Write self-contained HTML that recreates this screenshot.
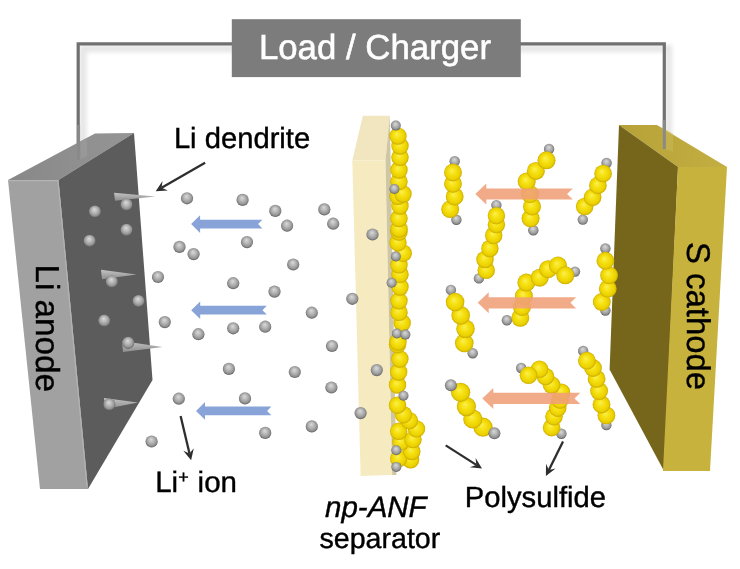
<!DOCTYPE html><html><head><meta charset="utf-8"><style>html,body{margin:0;padding:0;background:#fff;width:740px;height:569px;overflow:hidden}svg{display:block;will-change:transform}text{text-rendering:geometricPrecision}</style></head><body>
<svg width="740" height="569" viewBox="0 0 740 569">
<defs>
<radialGradient id="gli" cx="0.5" cy="0.47" fx="0.45" fy="0.32" r="0.53"><stop offset="0" stop-color="#dadada"/><stop offset="0.45" stop-color="#b6b6b6"/><stop offset="0.8" stop-color="#929292"/><stop offset="1" stop-color="#5e5e5e"/></radialGradient>
<radialGradient id="gs" cx="0.5" cy="0.5" fx="0.42" fy="0.38" r="0.5"><stop offset="0" stop-color="#fbef55"/><stop offset="0.4" stop-color="#f6e214"/><stop offset="0.82" stop-color="#ebd000"/><stop offset="1" stop-color="#c9aa00"/></radialGradient>
<linearGradient id="anTop" x1="0" y1="0" x2="1" y2="0"><stop offset="0" stop-color="#888888"/><stop offset="1" stop-color="#959595"/></linearGradient><linearGradient id="caTop" x1="0" y1="0" x2="1" y2="0"><stop offset="0" stop-color="#b7a238"/><stop offset="1" stop-color="#c3ae42"/></linearGradient>
<linearGradient id="dend" x1="0" y1="0" x2="0" y2="1"><stop offset="0" stop-color="#c4c4c4"/><stop offset="1" stop-color="#8e8e8e"/></linearGradient>
</defs>
<rect width="740" height="569" fill="#fff"/>
<filter id="blr" x="-20%" y="-20%" width="140%" height="140%"><feGaussianBlur stdDeviation="2.2"/></filter>
<polyline points="83,160 83,48.5 668.5,48.5 668.5,149" fill="none" stroke="#000" stroke-opacity="0.10" stroke-width="7" filter="url(#blr)"/>
<polyline points="78.2,160 78.2,43.8 664.3,43.8 664.3,149" fill="none" stroke="#707070" stroke-width="3.2"/>
<rect x="231.8" y="19.2" width="289" height="57.9" fill="#7c7c7c"/>
<text x="258.9" y="59.3" font-family='"Liberation Sans", sans-serif' font-size="34.8" fill="#fff" stroke="#fff" stroke-width="0.55">Load / Charger</text>
<polygon points="8,180 58.5,180 88,489 40,489" fill="#a1a1a1"/>
<polygon points="8,180 95,133.5 134,133 58.5,180" fill="url(#anTop)"/>
<polygon points="58.5,180 134,133 152.5,380 88,489" fill="#5c5c5c"/>
<polyline points="8.5,180.6 58,180.6 87,486" fill="none" stroke="#b4b4b4" stroke-width="1.1"/>
<polygon points="80.3,141.3 87,137.8 87,156 80.3,159.6" fill="#a0a0a0" opacity="0.5"/>
<line x1="78.6" y1="125" x2="78.6" y2="159.6" stroke="#8a8a8a" stroke-width="3"/>
<text transform="translate(36.3,264.5) rotate(90)" font-family='"Liberation Sans", sans-serif' font-size="33.2" fill="#000" stroke="#000" stroke-width="0.4">Li anode</text>
<polygon points="619,125 657,125 727,167 678,167" fill="url(#caTop)"/>
<polygon points="619,125 678,167 664,471 609.6,369.4" fill="#76661c"/>
<polygon points="678,167 727,167 710,471 663,471" fill="#c8b23e"/>
<polygon points="666,129 673,133 673,152 666,149" fill="#d8c870" opacity="0.3"/>
<line x1="664.3" y1="120" x2="664.3" y2="149" stroke="#8a8a8a" stroke-width="3"/>
<text transform="translate(686.9,242) rotate(90)" font-family='"Liberation Sans", sans-serif' font-size="32.9" fill="#000" stroke="#000" stroke-width="0.4">S cathode</text>
<polygon points="362.8,115.8 389.8,115.8 385.5,160.4 352.3,160.4" fill="#f1e6bf"/>
<polygon points="352.3,160.4 385.5,160.4 392.2,475 360.6,476" fill="#f6ebc0"/>
<polygon points="389.8,115.8 385.5,160.4 392.2,475 396.4,475" fill="#cfc6a4"/>
<polygon points="114,192.7 155.4,196.5 115,200.7" fill="url(#dend)"/>
<polygon points="101,269.7 136.5,274.5 102,279.2" fill="url(#dend)"/>
<polygon points="122,341 162.5,347 123,352" fill="url(#dend)"/>
<polygon points="104,398 138,402.6 105,409" fill="url(#dend)"/>
<circle cx="126.5" cy="204.60000000000002" r="6.1" fill="url(#gli)"/>
<circle cx="94.9" cy="211.5" r="6.1" fill="url(#gli)"/>
<circle cx="126.5" cy="229.9" r="6.1" fill="url(#gli)"/>
<circle cx="89.6" cy="240.8" r="6.1" fill="url(#gli)"/>
<circle cx="111.8" cy="281.6" r="6.1" fill="url(#gli)"/>
<circle cx="138.5" cy="301.0" r="6.1" fill="url(#gli)"/>
<circle cx="104.2" cy="320.7" r="6.1" fill="url(#gli)"/>
<circle cx="128.2" cy="342.8" r="6.1" fill="url(#gli)"/>
<circle cx="109.3" cy="404.5" r="6.1" fill="url(#gli)"/>
<circle cx="187" cy="198.3" r="6.1" fill="url(#gli)"/>
<circle cx="242.6" cy="199.9" r="6.1" fill="url(#gli)"/>
<circle cx="275.3" cy="210.9" r="6.1" fill="url(#gli)"/>
<circle cx="287.1" cy="225.70000000000002" r="6.1" fill="url(#gli)"/>
<circle cx="324.3" cy="209.4" r="6.1" fill="url(#gli)"/>
<circle cx="333.2" cy="223.70000000000002" r="6.1" fill="url(#gli)"/>
<circle cx="247" cy="242.10000000000002" r="6.1" fill="url(#gli)"/>
<circle cx="179.5" cy="246.9" r="6.1" fill="url(#gli)"/>
<circle cx="193.6" cy="254.10000000000002" r="6.1" fill="url(#gli)"/>
<circle cx="293.2" cy="264.5" r="6.1" fill="url(#gli)"/>
<circle cx="158" cy="277.0" r="6.1" fill="url(#gli)"/>
<circle cx="233.2" cy="283.2" r="6.1" fill="url(#gli)"/>
<circle cx="274.5" cy="291.6" r="6.1" fill="url(#gli)"/>
<circle cx="311.8" cy="312.7" r="6.1" fill="url(#gli)"/>
<circle cx="164.8" cy="322.1" r="6.1" fill="url(#gli)"/>
<circle cx="198.4" cy="334.2" r="6.1" fill="url(#gli)"/>
<circle cx="233.2" cy="328.3" r="6.1" fill="url(#gli)"/>
<circle cx="265.2" cy="326.7" r="6.1" fill="url(#gli)"/>
<circle cx="332" cy="346.0" r="6.1" fill="url(#gli)"/>
<circle cx="228.9" cy="368.90000000000003" r="6.1" fill="url(#gli)"/>
<circle cx="294.8" cy="372.0" r="6.1" fill="url(#gli)"/>
<circle cx="331.4" cy="387.5" r="6.1" fill="url(#gli)"/>
<circle cx="178.8" cy="398.7" r="6.1" fill="url(#gli)"/>
<circle cx="245" cy="398.40000000000003" r="6.1" fill="url(#gli)"/>
<circle cx="311.8" cy="426.40000000000003" r="6.1" fill="url(#gli)"/>
<circle cx="265.2" cy="432.90000000000003" r="6.1" fill="url(#gli)"/>
<circle cx="151.6" cy="441.5" r="6.1" fill="url(#gli)"/>
<circle cx="352.3" cy="298.8" r="6.1" fill="url(#gli)"/>
<circle cx="372.5" cy="234.5" r="6.1" fill="url(#gli)"/>
<circle cx="376.8" cy="370.1" r="6.1" fill="url(#gli)"/>
<circle cx="360.6" cy="413.1" r="6.1" fill="url(#gli)"/>
<polygon points="191.1,224.1 200.1,215.29999999999998 200.1,219.7 262.4,219.7 258.09999999999997,224.1 262.4,228.5 200.1,228.5 200.1,232.9" fill="#87a3d8"/>
<polygon points="191.2,310.2 200.2,301.4 200.2,305.8 266.8,305.8 262.5,310.2 266.8,314.59999999999997 200.2,314.59999999999997 200.2,319.0" fill="#87a3d8"/>
<polygon points="196,410.9 205,402.09999999999997 205,406.5 271.4,406.5 267.09999999999997,410.9 271.4,415.29999999999995 205,415.29999999999995 205,419.7" fill="#87a3d8"/>
<circle cx="410.6" cy="459.8" r="8.7" fill="url(#gs)"/>
<circle cx="398.7" cy="458.6" r="8.7" fill="url(#gs)"/>
<circle cx="411.8" cy="451.5" r="8.7" fill="url(#gs)"/>
<circle cx="401" cy="442" r="8.7" fill="url(#gs)"/>
<circle cx="413" cy="439.6" r="8.7" fill="url(#gs)"/>
<circle cx="398.7" cy="431.3" r="8.7" fill="url(#gs)"/>
<circle cx="416.5" cy="428.9" r="8.7" fill="url(#gs)"/>
<circle cx="409.4" cy="420.6" r="8.7" fill="url(#gs)"/>
<circle cx="403.5" cy="414.7" r="8.7" fill="url(#gs)"/>
<circle cx="397.5" cy="405.2" r="8.7" fill="url(#gs)"/>
<circle cx="397.5" cy="385" r="8.7" fill="url(#gs)"/>
<circle cx="398.7" cy="372" r="8.7" fill="url(#gs)"/>
<circle cx="399.9" cy="359" r="8.7" fill="url(#gs)"/>
<circle cx="397.5" cy="344.7" r="8.7" fill="url(#gs)"/>
<circle cx="398" cy="342" r="8.7" fill="url(#gs)"/>
<circle cx="402.2" cy="323" r="8.7" fill="url(#gs)"/>
<circle cx="399" cy="312.4" r="8.7" fill="url(#gs)"/>
<circle cx="399" cy="300.8" r="8.7" fill="url(#gs)"/>
<circle cx="400" cy="287" r="8.7" fill="url(#gs)"/>
<circle cx="400" cy="274.4" r="8.7" fill="url(#gs)"/>
<circle cx="399" cy="264.9" r="8.7" fill="url(#gs)"/>
<circle cx="403.2" cy="253.2" r="8.7" fill="url(#gs)"/>
<circle cx="398" cy="242.7" r="8.7" fill="url(#gs)"/>
<circle cx="399" cy="232" r="8.7" fill="url(#gs)"/>
<circle cx="399" cy="229" r="8.7" fill="url(#gs)"/>
<circle cx="399" cy="218.5" r="8.7" fill="url(#gs)"/>
<circle cx="400" cy="206" r="8.7" fill="url(#gs)"/>
<circle cx="398" cy="196.3" r="8.7" fill="url(#gs)"/>
<circle cx="403" cy="194" r="8.7" fill="url(#gs)"/>
<circle cx="399" cy="181.6" r="8.7" fill="url(#gs)"/>
<circle cx="399" cy="170" r="8.7" fill="url(#gs)"/>
<circle cx="400" cy="157.3" r="8.7" fill="url(#gs)"/>
<circle cx="400" cy="146" r="8.7" fill="url(#gs)"/>
<circle cx="398" cy="136.1" r="8.7" fill="url(#gs)"/>
<circle cx="395.8" cy="125.6" r="5.0" fill="url(#gli)"/>
<circle cx="394.4" cy="189" r="5.0" fill="url(#gli)"/>
<circle cx="395.8" cy="256.4" r="5.0" fill="url(#gli)"/>
<circle cx="391.6" cy="282.8" r="5.0" fill="url(#gli)"/>
<circle cx="396.9" cy="333.5" r="5.0" fill="url(#gli)"/>
<circle cx="405.4" cy="334.6" r="5.0" fill="url(#gli)"/>
<circle cx="403.5" cy="395.7" r="5.0" fill="url(#gli)"/>
<circle cx="396.3" cy="450.3" r="5.0" fill="url(#gli)"/>
<circle cx="396.3" cy="466.9" r="5.0" fill="url(#gli)"/>
<circle cx="454.7" cy="161.3" r="5.2" fill="url(#gli)"/>
<circle cx="456.4" cy="219.7" r="5.2" fill="url(#gli)"/>
<circle cx="450.2" cy="209.2" r="8.9" fill="url(#gs)"/>
<circle cx="454.7" cy="196.5" r="8.9" fill="url(#gs)"/>
<circle cx="453" cy="183.8" r="8.9" fill="url(#gs)"/>
<circle cx="453" cy="172.5" r="8.9" fill="url(#gs)"/>
<circle cx="549.1" cy="149" r="5.2" fill="url(#gli)"/>
<circle cx="533.3" cy="230.2" r="5.2" fill="url(#gli)"/>
<circle cx="530.6" cy="218.3" r="9.0" fill="url(#gs)"/>
<circle cx="532" cy="206.5" r="9.0" fill="url(#gs)"/>
<circle cx="530" cy="194" r="9.0" fill="url(#gs)"/>
<circle cx="526.7" cy="181.4" r="9.0" fill="url(#gs)"/>
<circle cx="535.9" cy="170.9" r="9.0" fill="url(#gs)"/>
<circle cx="546.5" cy="160.3" r="9.0" fill="url(#gs)"/>
<circle cx="606.6" cy="163" r="5.2" fill="url(#gli)"/>
<circle cx="582.8" cy="219.6" r="5.2" fill="url(#gli)"/>
<circle cx="584.7" cy="206.5" r="8.8" fill="url(#gs)"/>
<circle cx="592.6" cy="197.2" r="8.8" fill="url(#gs)"/>
<circle cx="597.9" cy="185.4" r="8.8" fill="url(#gs)"/>
<circle cx="603.1" cy="173.5" r="8.8" fill="url(#gs)"/>
<circle cx="496.4" cy="205.1" r="5.2" fill="url(#gli)"/>
<circle cx="478.9" cy="278.4" r="5.2" fill="url(#gli)"/>
<circle cx="486.2" cy="270.4" r="8.7" fill="url(#gs)"/>
<circle cx="485" cy="259.5" r="8.7" fill="url(#gs)"/>
<circle cx="489.9" cy="248.5" r="8.7" fill="url(#gs)"/>
<circle cx="493.7" cy="235.5" r="8.7" fill="url(#gs)"/>
<circle cx="496.4" cy="224.6" r="8.7" fill="url(#gs)"/>
<circle cx="496.4" cy="215.7" r="8.7" fill="url(#gs)"/>
<circle cx="450.9" cy="289.9" r="5.2" fill="url(#gli)"/>
<circle cx="472.7" cy="353.2" r="5.2" fill="url(#gli)"/>
<circle cx="464.3" cy="343" r="9.3" fill="url(#gs)"/>
<circle cx="465.5" cy="328.8" r="9.3" fill="url(#gs)"/>
<circle cx="460.7" cy="315.4" r="9.3" fill="url(#gs)"/>
<circle cx="455.1" cy="302" r="9.3" fill="url(#gs)"/>
<circle cx="575" cy="271.6" r="5.2" fill="url(#gli)"/>
<circle cx="506.9" cy="320.3" r="5.2" fill="url(#gli)"/>
<circle cx="520.3" cy="317.8" r="9.0" fill="url(#gs)"/>
<circle cx="522" cy="307" r="9.0" fill="url(#gs)"/>
<circle cx="523.9" cy="296" r="9.0" fill="url(#gs)"/>
<circle cx="526.4" cy="282.6" r="9.0" fill="url(#gs)"/>
<circle cx="539.7" cy="277.7" r="9.0" fill="url(#gs)"/>
<circle cx="548.2" cy="269.2" r="9.0" fill="url(#gs)"/>
<circle cx="558" cy="265.5" r="9.0" fill="url(#gs)"/>
<circle cx="565.3" cy="275.3" r="9.0" fill="url(#gs)"/>
<circle cx="605.4" cy="248.5" r="5.2" fill="url(#gli)"/>
<circle cx="605.4" cy="310.5" r="5.2" fill="url(#gli)"/>
<circle cx="601.8" cy="302" r="8.9" fill="url(#gs)"/>
<circle cx="607.8" cy="288.7" r="8.9" fill="url(#gs)"/>
<circle cx="609.1" cy="275.3" r="8.9" fill="url(#gs)"/>
<circle cx="605.4" cy="260.7" r="8.9" fill="url(#gs)"/>
<circle cx="483" cy="427.2" r="9.6" fill="url(#gs)"/>
<circle cx="472.8" cy="419" r="9.6" fill="url(#gs)"/>
<circle cx="466.4" cy="406.6" r="9.6" fill="url(#gs)"/>
<circle cx="460.6" cy="392.3" r="9.6" fill="url(#gs)"/>
<circle cx="450.9" cy="385.3" r="6.0" fill="url(#gli)"/>
<circle cx="494.4" cy="433.3" r="6.0" fill="url(#gli)"/>
<circle cx="521.2" cy="368" r="5.2" fill="url(#gli)"/>
<circle cx="561.4" cy="433.7" r="5.2" fill="url(#gli)"/>
<circle cx="551.6" cy="427.6" r="8.8" fill="url(#gs)"/>
<circle cx="554" cy="416.6" r="8.8" fill="url(#gs)"/>
<circle cx="557.7" cy="408.1" r="8.8" fill="url(#gs)"/>
<circle cx="560" cy="400" r="8.8" fill="url(#gs)"/>
<circle cx="561.4" cy="392.3" r="8.8" fill="url(#gs)"/>
<circle cx="551.6" cy="385" r="8.8" fill="url(#gs)"/>
<circle cx="545.5" cy="376.5" r="8.8" fill="url(#gs)"/>
<circle cx="539.5" cy="369.2" r="8.8" fill="url(#gs)"/>
<circle cx="528.5" cy="375.3" r="8.8" fill="url(#gs)"/>
<circle cx="583.2" cy="351" r="5.2" fill="url(#gli)"/>
<circle cx="606.4" cy="425.1" r="5.2" fill="url(#gli)"/>
<circle cx="606.4" cy="415.4" r="8.9" fill="url(#gs)"/>
<circle cx="601.5" cy="404.5" r="8.9" fill="url(#gs)"/>
<circle cx="599.1" cy="391.1" r="8.9" fill="url(#gs)"/>
<circle cx="596.6" cy="378.9" r="8.9" fill="url(#gs)"/>
<circle cx="593" cy="368" r="8.9" fill="url(#gs)"/>
<circle cx="586.9" cy="360.7" r="8.9" fill="url(#gs)"/>
<polygon points="475.3,194 486.3,183.5 486.3,188.4 572.8,188.4 567.0,194 572.8,199.6 486.3,199.6 486.3,204.5" fill="#f09f78" fill-opacity="0.88"/>
<polygon points="477.7,302.8 488.7,292.3 488.7,297.2 576.2,297.2 570.4000000000001,302.8 576.2,308.40000000000003 488.7,308.40000000000003 488.7,313.3" fill="#f09f78" fill-opacity="0.88"/>
<polygon points="482.3,398.4 493.3,387.9 493.3,392.79999999999995 580.3,392.79999999999995 574.5,398.4 580.3,404.0 493.3,404.0 493.3,408.9" fill="#f09f78" fill-opacity="0.88"/>
<line x1="205.1" y1="162.8" x2="161.6" y2="187.8" stroke="#2e2e2e" stroke-width="2.3"/><polygon points="155.7,191.2 162.5,181.0 161.6,187.8 167.9,190.4" fill="#2e2e2e"/>
<line x1="180.6" y1="416.1" x2="189.5" y2="453.6" stroke="#2e2e2e" stroke-width="2.3"/><polygon points="191.1,460.2 183.3,450.7 189.5,453.6 193.8,448.2" fill="#2e2e2e"/>
<line x1="445.7" y1="445.4" x2="476.3" y2="464.9" stroke="#2e2e2e" stroke-width="2.3"/><polygon points="482,468.6 469.8,467.2 476.3,464.9 475.6,458.1" fill="#2e2e2e"/>
<line x1="563" y1="441.6" x2="548.9" y2="469.9" stroke="#2e2e2e" stroke-width="2.3"/><polygon points="545.9,476 546.0,463.7 548.9,469.9 555.6,468.6" fill="#2e2e2e"/>
<text x="173.9" y="148.0" font-family='"Liberation Sans", sans-serif' font-size="29.2" fill="#000" stroke="#000" stroke-width="0.4" >Li dendrite</text>
<text x="155.2" y="492.2" font-family='"Liberation Sans", sans-serif' font-size="29.5" fill="#000" stroke="#000" stroke-width="0.4">Li<tspan font-size="18" dy="-9.3">+</tspan><tspan dy="9.3" dx="0.7"> ion</tspan></text>
<text x="464.8" y="507.2" font-family='"Liberation Sans", sans-serif' font-size="29.2" fill="#000" stroke="#000" stroke-width="0.4" >Polysulfide</text>
<text x="325" y="516.5" font-family='"Liberation Sans", sans-serif' font-size="29.5" fill="#000" stroke="#000" stroke-width="0.4" font-style="italic">np-ANF</text>
<text x="319.5" y="547.6" font-family='"Liberation Sans", sans-serif' font-size="28.6" fill="#000" stroke="#000" stroke-width="0.4" >separator</text>
</svg></body></html>
